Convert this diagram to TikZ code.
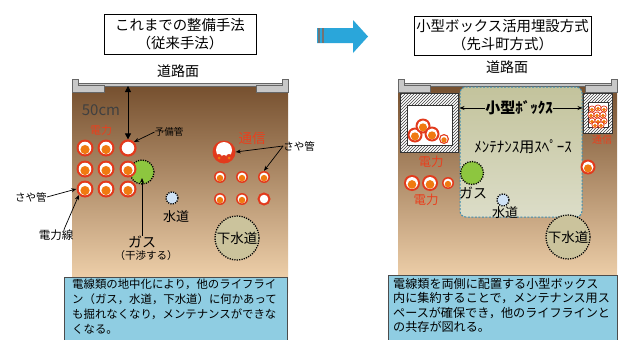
\documentclass[tikz,border=0pt]{standalone}
\usepackage{fontspec}
\setmainfont{Noto Sans CJK JP}
\usetikzlibrary{patterns,arrows.meta}

\definecolor{ringred}{HTML}{E23A1C}
\definecolor{coreorange}{HTML}{F07A10}
\definecolor{labelred}{HTML}{E8401E}
\definecolor{soilA}{HTML}{76502F}
\definecolor{soilB}{HTML}{B98A60}
\definecolor{soilC}{HTML}{F6D8B2}
\definecolor{roadgray}{HTML}{C8C8C8}
\definecolor{gasgreen}{HTML}{8DC63F}
\definecolor{waterblue}{HTML}{CFE2F5}
\definecolor{sewerkhaki}{HTML}{CBC39C}
\definecolor{spaceA}{HTML}{C3C39C}
\definecolor{spaceB}{HTML}{DCDDC8}
\definecolor{spaceedge}{HTML}{3E8DB0}
\definecolor{notefill}{HTML}{8FCDE2}
\definecolor{arrowblue}{HTML}{2AA6DA}

\tikzset{
  conduit/.style={circle, inner sep=0pt, minimum size=#1, fill=ringred,
    path picture={
      \fill[white] (path picture bounding box.center) circle[radius=0.37*#1];
      \fill[coreorange] ([yshift=-0.09*#1]path picture bounding box.center) circle[radius=0.27*#1];}},
  spare/.style={circle, inner sep=0pt, minimum size=#1, fill=white, draw=ringred, line width=2.2pt},
  lifeline/.style={circle, inner sep=0pt, draw=black, dash pattern=on 1.2pt off 1.2pt, line width=1.3pt},
  jp/.style={inner sep=0pt, font=\fontsize{#1}{#1}\selectfont},
  callout/.style={-{Stealth[length=5pt,width=4pt]}, line width=0.7pt},
  notebox/.style={draw=black!70, fill=notefill, line width=0.8pt, anchor=north west, inner sep=0pt},
  notetext/.style={anchor=north west, align=left, inner sep=0pt},
  titlebox/.style={draw=black, line width=0.8pt, fill=white, align=center, inner sep=0pt,
    font=\fontsize{14.4}{18}\selectfont},
  hatchwall/.style={pattern=north east lines, pattern color=black!75},
}

\begin{document}
\begin{tikzpicture}[x=1pt,y=-1pt]
\useasboundingbox (0,0) rectangle (624,340);
\fill[white] (0,0) rectangle (624,340);

% ---------- headings and the transition arrow ----------
\node[titlebox, minimum width=152pt, minimum height=40pt] (titleL) at (180,34)
  {これまでの整備手法\\（従来手法）};
\node[titlebox, minimum width=177pt, minimum height=39pt] (titleR) at (502.5,35.5)
  {小型ボックス活用埋設方式\\（先斗町方式）};

\fill[arrowblue] (317,28) -- (353,28) -- (353,20) -- (368,36.5) -- (353,53) -- (353,43) -- (317,43) -- cycle;
\fill[black!55] (318,28) rectangle (320,43);
\fill[black!55] (322,28) rectangle (324,43);

% ---------- conventional method: soil section ----------
\shade[top color=soilA, middle color=soilB, bottom color=soilC] (72,86) rectangle (288,292);
\filldraw[fill=roadgray, draw=black!60, line width=0.5pt] (78,83) rectangle (282,86);
\filldraw[fill=roadgray, draw=black!60, line width=0.5pt]
  (72,79) -- (78,79) -- (78,85) -- (104,85) -- (104,92) -- (72,92) -- cycle;
\filldraw[fill=roadgray, draw=black!60, line width=0.5pt]
  (288,79) -- (282,79) -- (282,85) -- (256,85) -- (256,92) -- (288,92) -- cycle;
\node[jp=14] (surfL) at (178,71) {道路面};

% lifelines
\node[lifeline, fill=gasgreen, minimum size=24pt] (gasL) at (142,172) {};
\node[lifeline, fill=waterblue, minimum size=12pt] (waterL) at (172,198) {};
\node[lifeline, fill=sewerkhaki, minimum size=44pt, font=\fontsize{13.5}{13.5}\selectfont] (sewerL) at (237,238) {下水道};

% power conduits
\node[conduit=17pt] (p11) at (85,148) {};
\node[conduit=17pt] (p12) at (106,148) {};
\node[spare=15pt]   (p13) at (128,148) {};
\node[conduit=17pt] (p21) at (85,169) {};
\node[conduit=17pt] (p22) at (106,169) {};
\node[conduit=17pt] (p23) at (128,169) {};
\node[conduit=17pt] (p31) at (85,189) {};
\node[conduit=17pt] (p32) at (106,189) {};
\node[conduit=17pt] (p33) at (128,189) {};

% telecom conduits
\node[circle, inner sep=0pt, minimum size=23pt, fill=ringred,
  path picture={
    \fill[white] ([yshift=2pt]path picture bounding box.center) circle[radius=8pt];
    \fill[ringred] ([xshift=-5pt,yshift=-5pt]path picture bounding box.center) circle[radius=3pt];
    \fill[ringred] ([yshift=-6pt]path picture bounding box.center) circle[radius=3pt];
    \fill[ringred] ([xshift=5pt,yshift=-5pt]path picture bounding box.center) circle[radius=3pt];
    \fill[coreorange] ([xshift=-5pt,yshift=-6pt]path picture bounding box.center) circle[radius=1.5pt];
    \fill[coreorange] ([xshift=5pt,yshift=-6pt]path picture bounding box.center) circle[radius=1.5pt];
  }] (tBig) at (224,152) {};
\node[conduit=12pt] (t11) at (220,177) {};
\node[conduit=12pt] (t12) at (242,177) {};
\node[conduit=12pt] (t13) at (264,177) {};
\node[conduit=12pt] (t21) at (220,199) {};
\node[conduit=12pt] (t22) at (242,199) {};
\node[spare=11pt, line width=2pt] (t23) at (264,199) {};

% labels
\node[jp=15, text=black!75] (depth) at (101,110) {50cm};
\coordinate (topL) at (128,86);
\draw[{Triangle[length=6pt,width=6pt]}-{Triangle[length=6pt,width=6pt]}, line width=0.8pt] (topL) -- (p13.north);
\node[jp=11, text=labelred] (powerL) at (101,130) {電力};
\node[jp=13.5, text=labelred] (telL) at (252,138) {通信};
\node[jp=9.5] (spareLbl) at (169,132) {予備管};
\draw[callout] (spareLbl.west) -- (p13.north east);
\node[jp=10.5] (sayaA) at (31,197) {さや管};
\draw[callout] (sayaA.east) -- (p31.west);
\node[jp=11.5] (cableL) at (56,235) {電力線};
\draw[callout] ([xshift=8pt]cableL.north) -- (p31.south west);
\node[jp=10.5] (sayaB) at (299,146) {さや管};
\draw[callout] (sayaB.west) -- (tBig.east);
\draw[callout] (sayaB.west) -- (t13.north);
\node[jp=13] (waterLbl) at (176,217) {水道};
\node[jp=14] (gasLbl) at (142,242) {ガス};
\node[jp=10.5] (gasNote) at (146,256) {（干渉する）};
\draw[callout] (gasLbl.north) -- ([yshift=-6pt]gasL.center);

% note panel runs off the lower edge of the page
\node[notebox, minimum width=223pt, minimum height=66pt] (noteL) at (64,277) {};
\node[notetext, font=\fontsize{11.4}{15}\selectfont] (noteLtext) at (72,279)
  {電線類の地中化により，他のライフライ\\ン（ガス，水道，下水道）に何かあって\\も掘れなくなり，メンテナンスができな\\くなる。};

% ---------- small box method: soil section ----------
\shade[top color=soilA, middle color=soilB, bottom color=soilC] (398,86) rectangle (617,292);
\filldraw[fill=roadgray, draw=black!60, line width=0.5pt] (404,83) rectangle (611,86);
\filldraw[fill=roadgray, draw=black!60, line width=0.5pt]
  (398,79) -- (404,79) -- (404,85) -- (430,85) -- (430,92) -- (398,92) -- cycle;
\filldraw[fill=roadgray, draw=black!60, line width=0.5pt]
  (617,79) -- (611,79) -- (611,85) -- (585,85) -- (585,92) -- (617,92) -- cycle;
\node[jp=14] (surfR) at (507,67) {道路面};

% maintenance space
\node[draw=spaceedge, dash pattern=on 2pt off 1.5pt, line width=1pt, rounded corners=6pt,
  top color=spaceA, bottom color=spaceB, minimum width=122pt, minimum height=130pt,
  inner sep=0pt] (space) at (521,152) {};

% hatched cable boxes
\fill[white] (400,93) rectangle (458,152);
\fill[hatchwall] (400,93) rectangle (458,152);
\filldraw[fill=white, draw=black!80, line width=0.5pt] (407,105) rectangle (452,145);
\draw[black!80, line width=0.5pt] (400,93) rectangle (458,152);
\node[conduit=15pt] (b1) at (415,135) {};
\node[conduit=15pt] (b2) at (423,126) {};
\node[conduit=15pt] (b3) at (432,134) {};
\node[conduit=10pt] (b4) at (444,139) {};

\fill[white] (583,93) rectangle (612,133);
\fill[hatchwall] (583,93) rectangle (612,133);
\filldraw[fill=white, draw=black!80, line width=0.5pt] (588,102) rectangle (608,127);
\draw[black!80, line width=0.5pt] (583,93) rectangle (612,133);
\foreach \cx/\cy [count=\i] in {592/109,598/108,604/109,591/115,597/115,603/115,592/121,598/121,604/121,595/125,601/125}
  \node[conduit=7pt] (c\i) at (\cx,\cy) {};

% lifelines
\node[lifeline, fill=gasgreen, minimum size=23pt] (gasR) at (472,173) {};
\node[lifeline, fill=waterblue, minimum size=12pt] (waterR) at (503,200) {};
\node[lifeline, fill=sewerkhaki, minimum size=44pt, font=\fontsize{13.5}{13.5}\selectfont] (sewerR) at (568,237) {下水道};

\node[conduit=16pt] (r1) at (412,183) {};
\node[conduit=16pt] (r2) at (430,183) {};
\node[conduit=12pt] (r3) at (448,183) {};
\node[conduit=15pt] (r4) at (588,167) {};

% labels
\node[jp=15, font=\bfseries\fontsize{15}{15}\selectfont] (boxLbl) at (519,108) {小型ﾎﾞｯｸｽ};
\draw[callout, line width=1pt] (boxLbl.west) -- (space.west |- boxLbl.west);
\draw[callout, line width=1pt] (boxLbl.east) -- (space.east |- boxLbl.east);
\node[jp=15] (spaceLbl) at (523,147) {ﾒﾝﾃﾅﾝｽ用ｽﾍﾟｰｽ};
\node[jp=12.5, text=labelred] (powerR1) at (431,162) {電力};
\node[jp=12.5, text=labelred] (powerR2) at (426,200) {電力};
\node[jp=10, text=labelred] (telR) at (602,140) {通信};
\node[jp=14] (gasLblR) at (473,193) {ガス};
\node[jp=13] (waterLblR) at (505,213) {水道};

\node[notebox, minimum width=229pt, minimum height=68pt] (noteR) at (388,275) {};
\node[notetext, font=\fontsize{12.1}{14.5}\selectfont] (noteRtext) at (393,278)
  {電線類を両側に配置する小型ボックス\\内に集約することで，メンテナンス用ス\\ペースが確保でき，他のライフラインと\\の共存が図れる。};
\end{tikzpicture}
\end{document}
